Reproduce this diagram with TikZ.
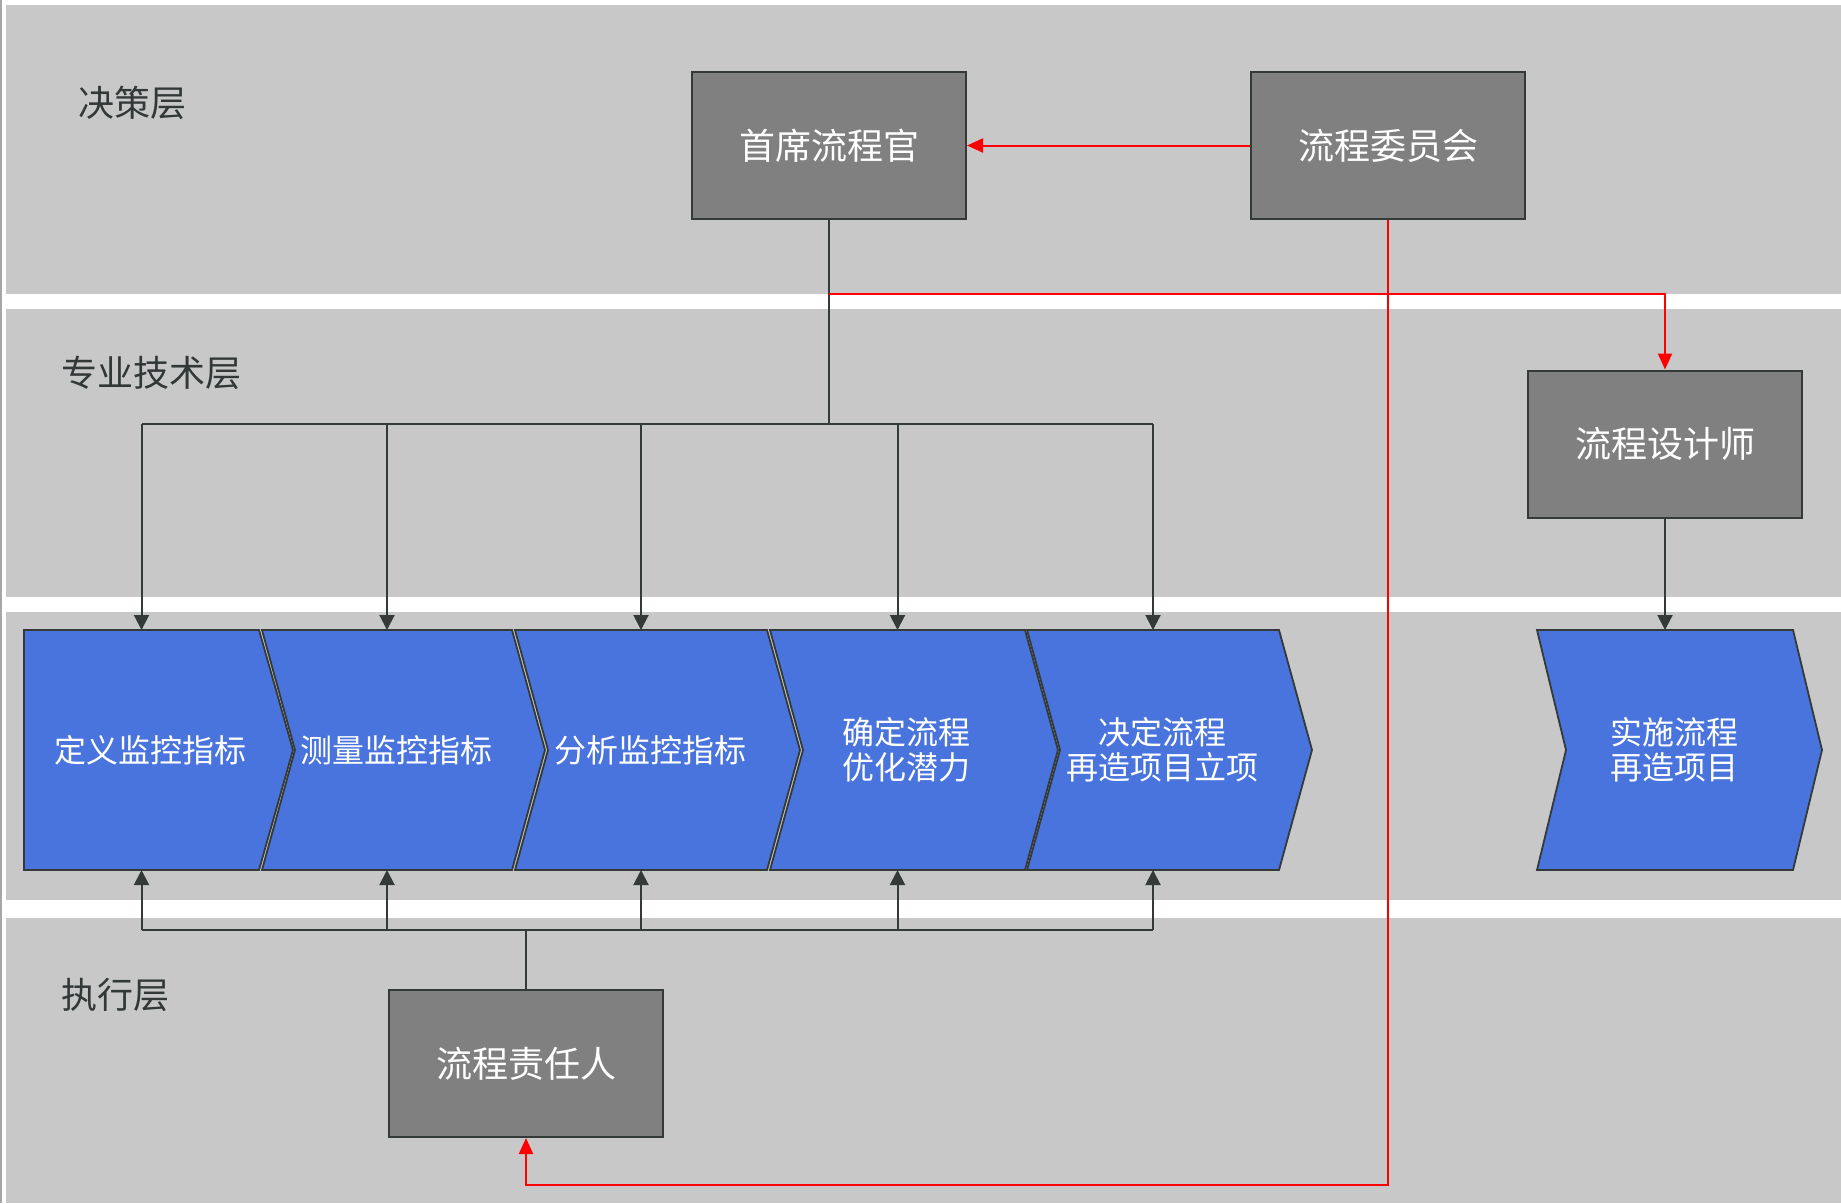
\documentclass[tikz,border=0pt]{standalone}
\usepackage{fontspec}
\newfontfamily\cjk{Noto Sans CJK SC}
\usetikzlibrary{positioning,arrows.meta,calc}

\definecolor{bandgray}{RGB}{200,200,200}
\definecolor{boxgray}{RGB}{128,128,128}
\definecolor{edgedark}{RGB}{52,58,56}
\definecolor{chevblue}{RGB}{74,116,221}
\definecolor{labeltext}{RGB}{50,55,55}

\begin{document}
\begin{tikzpicture}[
    x=1pt, y=-1pt,
    font=\cjk,
    role/.style={draw=edgedark, line width=2pt, fill=boxgray, text=white,
                 minimum width=274pt, minimum height=147pt, inner sep=0pt,
                 font=\cjk\fontsize{36}{40}\selectfont},
    layer/.style={anchor=west, inner sep=0pt, text=labeltext,
                  font=\cjk\fontsize{36}{40}\selectfont},
    stage/.style={draw=edgedark, line width=1.8pt, fill=chevblue},
    stagebody/.style={minimum height=240pt, inner sep=0pt, outer sep=0pt},
    stagetxt/.style={text=white, align=center, inner sep=0pt,
                     font=\cjk\fontsize{32}{35}\selectfont},
    link/.style={edgedark, line width=2pt},
    feed/.style={link, -{Triangle[length=15pt, width=15pt]}},
    redlink/.style={red, line width=2pt},
    redfeed/.style={redlink, -{Triangle[length=16pt, width=14pt]}},
  ]
  \useasboundingbox (0,0) rectangle (1841,1203);

  % ---------- swim lanes ----------
  \foreach \top/\bot in {5/294, 309/597, 612/900, 918/1203}
    \fill[bandgray] (6,\top) rectangle (1841,\bot);
  \draw[gray!70, line width=2pt] (1,0) -- (1,1203);

  % ---------- lane titles ----------
  \node[layer] (lay1) at (78,103) {决策层};
  \node[layer] (lay2) at (61,373) {专业技术层};
  \node[layer] (lay3) at (61,995) {执行层};

  % ---------- roles ----------
  \node[role] (cpo)       at (829,145.5)  {首席流程官};
  \node[role] (committee) at (1388,145.5) {流程委员会};
  \node[role] (designer)  at (1665,444)   {流程设计师};
  \node[role] (owner)     at (526,1063.5) {流程责任人};

  % ---------- process chevrons: left x, right x, notch, tip ----------
  \foreach \i/\xl/\xr/\ln/\rt/\txt in {
      1/24/259/0/34/{定义监控指标},
      2/262/512/33/33/{测量监控指标},
      3/515/767/33/33/{分析监控指标},
      4/770/1025/33/33/{确定流程\\优化潜力},
      5/1027/1279/33/33/{决定流程\\再造项目立项},
      6/1537/1793/29/29/{实施流程\\再造项目}} {
    \pgfmathsetmacro{\xm}{(\xl+\xr)/2}
    \pgfmathsetmacro{\stagew}{\xr-\xl}
    \draw[stage] (\xl,630) -- (\xr,630) -- ++(\rt,120) -- (\xr,870)
      -- (\xl,870) -- ++(\ln,-120) -- cycle;
    \node[stagebody, minimum width=\stagew pt] (s\i) at (\xm,750) {};
    \node[stagetxt] (s\i txt) at ([xshift=9pt]s\i.center) {\txt};
  }

  % ---------- top bus: chief officer to stages ----------
  \coordinate (topbus) at (cpo.south |- 0,424);
  \draw[link] (cpo.south) -- (topbus);
  \draw[link] (s1.north |- topbus) -- (s5.north |- topbus);
  \foreach \i in {1,...,5}
    \draw[feed] (s\i.north |- topbus) -- (s\i.north);

  % ---------- bottom bus: owner to stages ----------
  \coordinate (botbus) at (owner.north |- 0,930);
  \draw[link] (owner.north) -- (botbus);
  \draw[link] (s1.south |- botbus) -- (s5.south |- botbus);
  \foreach \i in {1,...,5}
    \draw[feed] (s\i.south |- botbus) -- (s\i.south);

  % ---------- designer to implementation ----------
  \draw[feed] (designer.south) -- (s6.north);

  % ---------- red control lines ----------
  \draw[redfeed] (committee.west) -- (cpo.east);
  \coordinate (redsplit) at (cpo.south |- 0,294);
  \draw[redfeed] (redsplit) -| (designer.north);
  \coordinate (redbase) at (committee.south |- 0,1185);
  \draw[redfeed] (committee.south) -- (redbase) -| (owner.south);

\end{tikzpicture}
\end{document}
